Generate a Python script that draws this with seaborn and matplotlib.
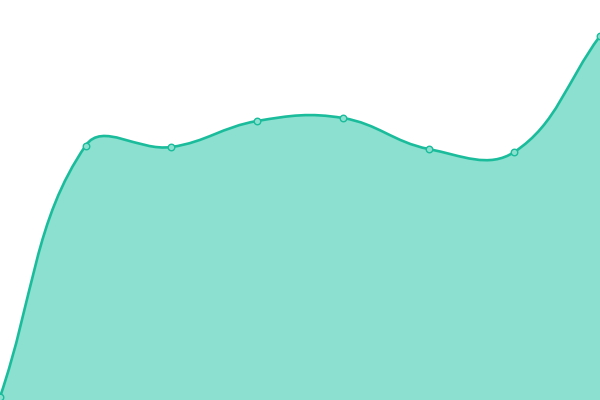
import numpy as np
import pandas as pd
import matplotlib
matplotlib.use("Agg")
import matplotlib.pyplot as plt
import seaborn as sns
from matplotlib.path import Path
from matplotlib.patches import PathPatch

# values (bottom of plot = 0, top = 400)
points = [0, 1, 2, 3, 4, 5, 6, 7]
values = [3, 254.5, 253, 279, 282, 251, 248, 364]

line_color = "#1abc9c"
fill_color = "#8be0cf"

df = pd.DataFrame({"x": points, "y": values})

sns.set_theme(style="white")
fig = plt.figure(figsize=(6, 4), dpi=100)
ax = fig.add_axes([0, 0, 1, 1])
ax.set_xlim(0, 7)
ax.set_ylim(0, 400)
ax.set_axis_off()


def smooth_path(ax, xs, ys, tension=0.4):
    # bezier control points in pixel space, like a tension-smoothed line
    pts = ax.transData.transform(np.column_stack([xs, ys]))
    n = len(pts)
    cps = []
    for i in range(n):
        p1 = pts[i]
        p0 = pts[i - 1] if i > 0 else p1
        p2 = pts[i + 1] if i < n - 1 else p1
        d01 = np.hypot(*(p1 - p0))
        d12 = np.hypot(*(p2 - p1))
        tot = d01 + d12
        fa = tension * d01 / tot if tot else 0
        fb = tension * d12 / tot if tot else 0
        cps.append((p1 - fa * (p2 - p0), p1 + fb * (p2 - p0)))
    verts = [pts[0]]
    codes = [Path.MOVETO]
    for i in range(n - 1):
        verts += [cps[i][1], cps[i + 1][0], pts[i + 1]]
        codes += [Path.CURVE4] * 3
    inv = ax.transData.inverted()
    return inv.transform(np.array(verts)), codes


verts, codes = smooth_path(ax, df["x"].values, df["y"].values)

# area under the curve
area_verts = list(verts) + [(df["x"].iloc[-1], 0), (df["x"].iloc[0], 0), verts[0]]
area_codes = list(codes) + [Path.LINETO, Path.LINETO, Path.CLOSEPOLY]
ax.add_patch(PathPatch(Path(area_verts, area_codes), facecolor=fill_color,
                       edgecolor="none", zorder=1))
ax.add_patch(PathPatch(Path(verts, codes), facecolor="none",
                       edgecolor=line_color, lw=1.9, zorder=2,
                       capstyle="round", joinstyle="round"))

sns.scatterplot(data=df, x="x", y="y", ax=ax, s=22, color=fill_color,
                edgecolor=line_color, linewidth=1.0, zorder=3, clip_on=False,
                legend=False)
ax.set_xlim(0, 7)
ax.set_ylim(0, 400)
ax.set_axis_off()

fig.savefig("out.png", dpi=100)
